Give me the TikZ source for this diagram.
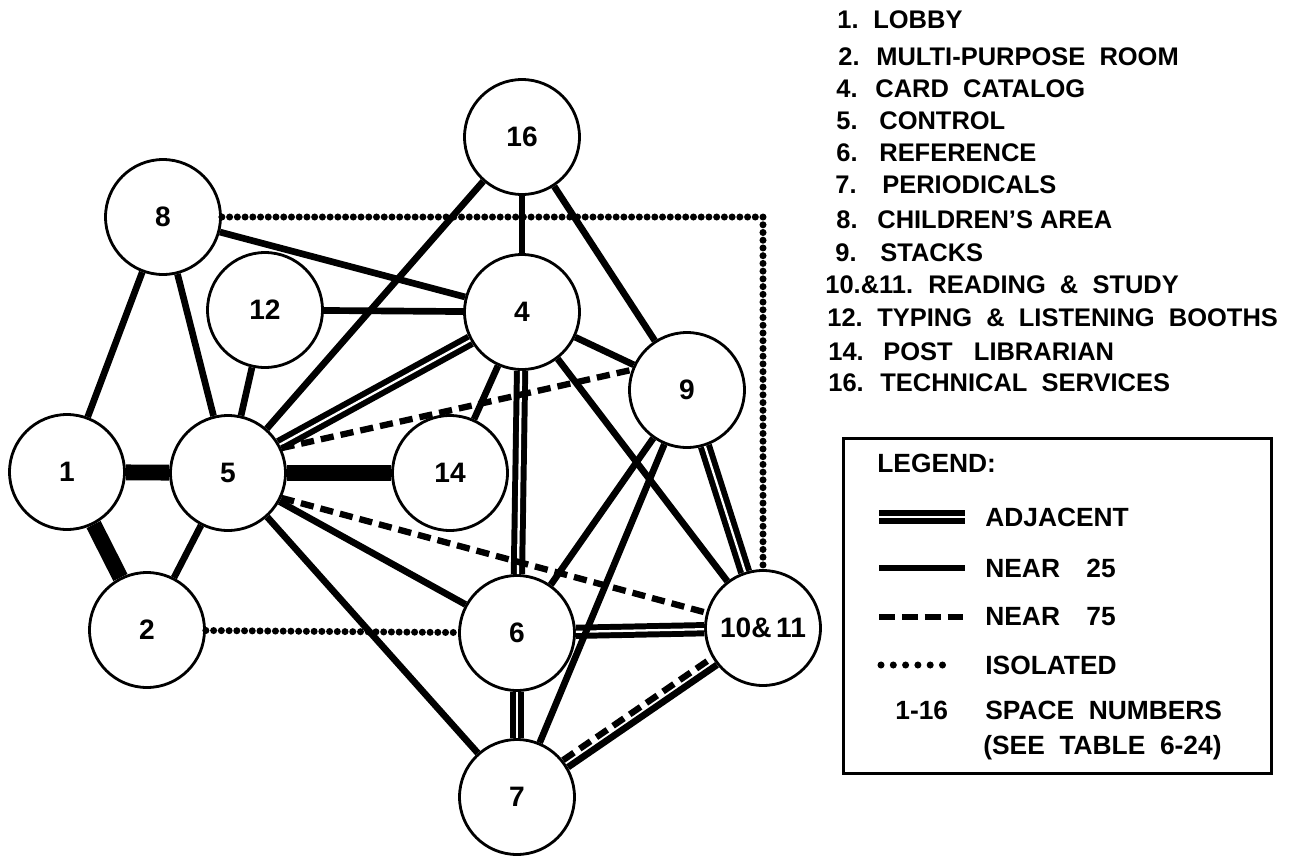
\documentclass[tikz,border=0pt]{standalone}
\usepackage{fontspec}
\setmainfont{Liberation Sans}
\usetikzlibrary{positioning,calc}

\begin{document}
\begin{tikzpicture}[x=0.02cm, y=-0.02cm,
  room/.style={draw, circle, line width=1.6pt, fill=white, minimum size=2.3cm, inner sep=0pt, font=\fontsize{16}{18}\selectfont\bfseries},
  near/.style={line width=3.8pt},
  heavy/.style={line width=9pt},
  adjacent/.style={line width=3.4pt, double, double distance=1.3pt},
  far/.style={line width=3.6pt, dash pattern=on 7.5pt off 4pt},
  isolated/.style={line width=4pt, line cap=round, dash pattern=on 0pt off 4.4pt},
  item/.style={anchor=west, inner sep=0pt, font=\fontsize{14.5}{16}\selectfont\bfseries},
  key/.style={anchor=west, inner sep=0pt, font=\fontsize{15}{18}\selectfont\bfseries}]
\useasboundingbox (0,0) rectangle (1291,856);
% spaces
\node[room] (n1) at (67,472) {1};
\node[room] (n2) at (147,630) {2};
\node[room] (n4) at (522,312) {4};
\node[room] (n5) at (228,473) {5};
\node[room] (n6) at (517,633) {6};
\node[room] (n7) at (517,797) {7};
\node[room] (n8) at (163,217) {8};
\node[room] (n9) at (687,390) {9};
\node[room] (n1011) at (763,628) {10\&\,11};
\node[room] (n12) at (265,310) {12};
\node[room] (n14) at (450,473) {14};
\node[room] (n16) at (522,137) {16};
% adjacent
\draw[heavy] (n1) -- (n5);
\draw[heavy] (n1) -- (n2);
\draw[heavy] (n5) -- (n14);
\draw[adjacent] (n5) -- (n4);
\draw[adjacent] (n4) -- (n6);
\draw[adjacent] (n9) -- (n1011);
\draw[adjacent] (n6) -- (n1011);
\draw[adjacent] (n6) -- (n7);
% near 25
\draw[near] (n8) -- (n1);
\draw[near] (n8) -- (n5);
\draw[near] (n8) -- (n4);
\draw[near] (n12) -- (n4);
\draw[near] (n12) -- (n5);
\draw[near] (n16) -- (n5);
\draw[near] (n16) -- (n4);
\draw[near] (n16) -- (n9);
\draw[near] (n4) -- (n9);
\draw[near] (n4) -- (n14);
\draw[near] (n4) -- (n1011);
\draw[near] (n5) -- (n2);
\draw[near] (n5) -- (n6);
\draw[near] (n5) -- (n7);
\draw[near] (n9) -- (n6);
\draw[near] (n9) -- (n7);
\draw[near, transform canvas={xshift=1.4pt, yshift=-2pt}] (n7) -- (n1011);
% near 75
\draw[far] (n5.25) -- (n9.160);
\draw[far] (n5.-25) -- (n1011);
\draw[far, transform canvas={xshift=-1.4pt, yshift=2pt}] (n7) -- (n1011);
% isolated
\draw[isolated] (n8) -| (n1011);
\draw[isolated] (n2) -- (n6);
% list of spaces
\node[item] (l1n) at (837,20) {1.};   \node[item] (l1) at (873,20) {LOBBY};
\node[item] (l2n) at (838,57) {2.};   \node[item] (l2) at (876,57) {MULTI-PURPOSE\ \ ROOM};
\node[item] (l4n) at (836,89) {4.};   \node[item] (l4) at (875,89) {CARD\ \ CATALOG};
\node[item] (l5n) at (836,121) {5.};  \node[item] (l5) at (879,121) {CONTROL};
\node[item] (l6n) at (836,153) {6.};  \node[item] (l6) at (879,153) {REFERENCE};
\node[item] (l7n) at (835,185) {7.};  \node[item] (l7) at (882,185) {PERIODICALS};
\node[item] (l8n) at (836,220) {8.};  \node[item] (l8) at (877,220) {CHILDREN’S AREA};
\node[item] (l9n) at (835,253) {9.};  \node[item] (l9) at (880,253) {STACKS};
\node[item] (l10n) at (825,285) {10.\&11.}; \node[item] (l10) at (928,285) {READING\ \ \&\ \ STUDY};
\node[item] (l12n) at (827,318) {12.}; \node[item] (l12) at (877,318) {TYPING\ \ \&\ \ LISTENING\ \ BOOTHS};
\node[item] (l14n) at (828,352) {14.}; \node[item] (l14) at (883,352) {POST\ \ \ LIBRARIAN};
\node[item] (l16n) at (828,383) {16.}; \node[item] (l16) at (880,383) {TECHNICAL\ \ SERVICES};
% legend
\node[draw, line width=1.6pt, anchor=north west, inner sep=0pt, minimum width=8.56cm, minimum height=6.7cm] (legend) at (842,437) {};
\node[key] (lgd) at (877,463) {LEGEND:};
\draw[adjacent] (879,517) -- (965,517);
\node[key] (kadj) at (985,517) {ADJACENT};
\draw[near] (879,568) -- (965,568);
\node[key] (knear) at (985,568) {NEAR\hspace{15pt}25};
\draw[far, dash pattern=on 9pt off 4pt] (879,617) -- (965,617);
\node[key] (kfar) at (985,617) {NEAR\hspace{15pt}75};
\draw[isolated, dash pattern=on 0pt off 7pt] (881,665) -- (953,665);
\node[key] (kiso) at (985,665) {ISOLATED};
\node[key] (knum) at (895,710) {1-16};
\node[key] (kspace) at (985,710) {SPACE\ \ NUMBERS};
\node[key] (ktable) at (983,748) {(SEE\ \ TABLE\ \ 6-24)};
\end{tikzpicture}
\end{document}
